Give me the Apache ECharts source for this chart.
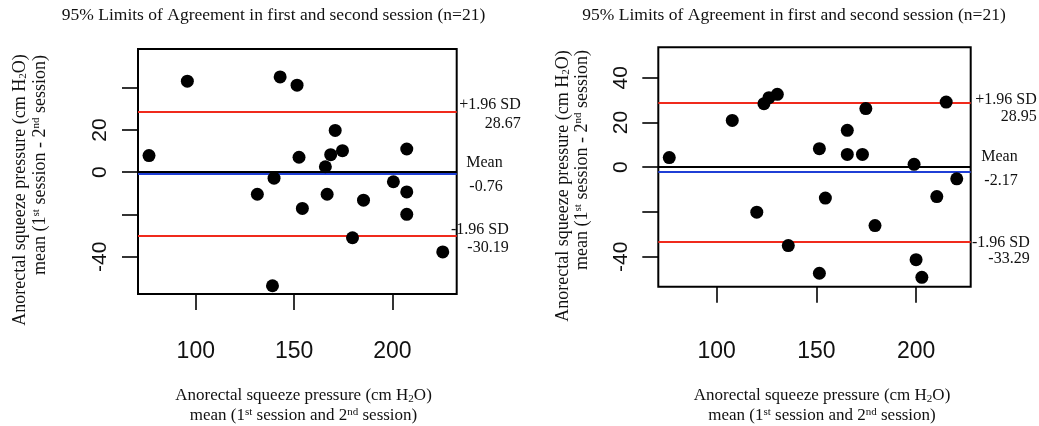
<!DOCTYPE html>
<html>
<head>
<meta charset="utf-8">
<script src="https://cdn.jsdelivr.net/npm/echarts@6/dist/echarts.min.js"></script>
<style>
html,body{margin:0;padding:0;background:#fff;}
#c{width:1039px;height:426px;}
</style>
</head>
<body>
<div id="c"></div>
<script>
// ---- data ----
const titleText = '95% Limits of Agreement in first and second session (n=21)';
const leftX = [76.2, 95.7, 142.9, 151.5, 170.9, 152.5, 168.6, 174.6, 165.9, 207.3, 139.8, 131.3, 166.8, 154.2, 185.3, 200.5, 207.3, 207.3, 179.7, 225.6, 139.0];
const leftY = [7.9, 43.1, 45.1, 41.2, 19.8, 7.1, 8.3, 10.2, 2.6, 11.0, -2.8, -10.4, -10.4, -17.1, -13.2, -4.5, -9.3, -19.9, -31.0, -37.7, -53.7];
const rightX = [76.2, 107.8, 123.7, 126.2, 130.4, 120.1, 135.9, 151.5, 154.5, 151.5, 165.5, 165.5, 173.1, 174.8, 179.4, 199.0, 200.0, 202.9, 210.4, 215.1, 220.4];
const rightY = [4.3, 20.9, 28.4, 31.1, 32.6, -20.1, -35.0, 8.3, -13.8, -47.4, 16.5, 5.7, 5.7, 26.2, -26.1, 1.3, -41.3, -49.2, -13.1, 29.1, -5.2];
const leftStats = [28.67, -0.76, -30.19];   // upper, mean, lower
const rightStats = [28.95, -2.17, -33.29];
const xTicks = [100, 150, 200];
const yTicks = [-40, -20, 0, 20, 40];
const leftYLabels = [-40, 0, 20];
const rightYLabels = [-40, 0, 20, 40];
const statNames = ['+1.96 SD', 'Mean', '-1.96 SD'];
const yTitle1 = 'Anorectal squeeze pressure (cm H{sub|2}O)';
const yTitle2 = 'mean (1{sup|st} session - 2{sup|nd} session)';
const xTitle1 = 'Anorectal squeeze pressure (cm H{sub|2}O)';
const xTitle2 = 'mean (1{sup|st} session and 2{sup|nd} session)';

// ---- layout ----
const grids = [
  {left: 138, top: 49, width: 318.7, height: 245, xr: [70.6, 232.7], yr: [-57.6, 58.3], xMargin: 46},
  {left: 658.3, top: 47.3, width: 312.4, height: 239.4, xr: [70.7, 227.4], yr: [-53.4, 53.6], xMargin: 53}
];
const serif = '"Liberation Serif","Times New Roman",serif';
const richStyles = {
  sup: {fontSize: 11, lineHeight: 11, verticalAlign: 'top', fontFamily: serif, color: '#000'},
  sub: {fontSize: 11, lineHeight: 11, verticalAlign: 'bottom', fontFamily: serif, color: '#000'}
};

const chart = echarts.init(document.getElementById('c'), null, {renderer: 'canvas'});

function pairs(xs, ys) { return xs.map((x, i) => [x, ys[i]]); }

const xAxes = grids.map((g, i) => ({
  type: 'value', gridIndex: i, min: g.xr[0], max: g.xr[1], position: 'bottom',
  axisLine: {show: false, onZero: false},
  splitLine: {show: false},
  axisTick: {show: true, length: 16, lineStyle: {color: '#000', width: 1.6}, customValues: xTicks},
  axisLabel: {show: true, customValues: xTicks, margin: g.xMargin, fontSize: 23,
    fontFamily: '"Liberation Sans",Arial,sans-serif', color: '#111'}
}));
const yAxes = grids.map((g, i) => ({
  type: 'value', gridIndex: i, min: g.yr[0], max: g.yr[1], position: 'left',
  axisLine: {show: false, onZero: false},
  splitLine: {show: false},
  axisTick: {show: true, length: 16, lineStyle: {color: '#000', width: 1.6}, customValues: yTicks},
  axisLabel: {show: true, customValues: i === 0 ? leftYLabels : rightYLabels, rotate: 90, margin: 27,
    fontSize: 21, fontFamily: '"Liberation Sans",Arial,sans-serif', color: '#111'}
}));

function lineSeries(i, stats) {
  return {
    type: 'scatter', xAxisIndex: i, yAxisIndex: i, data: [], z: 1, silent: true,
    markLine: {
      silent: true, symbol: 'none', animation: false, label: {show: false},
      data: [
        {yAxis: 0, lineStyle: {color: '#000', width: 2, type: 'solid'}},
        {yAxis: stats[1], lineStyle: {color: '#1f3fd6', width: 2, type: 'solid'}},
        {yAxis: stats[0], lineStyle: {color: '#f02a1c', width: 2, type: 'solid'}},
        {yAxis: stats[2], lineStyle: {color: '#f02a1c', width: 2, type: 'solid'}}
      ]
    }
  };
}
function pointSeries(i, xs, ys) {
  return {
    type: 'scatter', xAxisIndex: i, yAxisIndex: i, data: pairs(xs, ys), z: 5,
    symbol: 'circle', symbolSize: 13,
    itemStyle: {color: '#000', opacity: 1}
  };
}

const staticGraphics = [];
// titles and axis titles
const titleCenters = [273.5, 794];
const xTitleCenters = [303.5, 822];
const yTitleLine1 = [{x: 20, y: 190}, {x: 563, y: 186}];
const yTitleLine2 = [{x: 40, y: 165}, {x: 582, y: 160}];
for (let i = 0; i < 2; i++) {
  staticGraphics.push({type: 'text', x: titleCenters[i], y: 15, silent: true,
    style: {text: titleText, align: 'center', verticalAlign: 'middle', fontSize: 17.5, fontFamily: serif, fill: '#111'}});
  staticGraphics.push({type: 'text', x: xTitleCenters[i], y: 396, silent: true,
    style: {text: xTitle1, rich: richStyles, align: 'center', verticalAlign: 'middle', fontSize: 17, lineHeight: 18, fontFamily: serif, fill: '#111'}});
  staticGraphics.push({type: 'text', x: xTitleCenters[i], y: 416, silent: true,
    style: {text: xTitle2, rich: richStyles, align: 'center', verticalAlign: 'middle', fontSize: 17, lineHeight: 18, fontFamily: serif, fill: '#111'}});
  staticGraphics.push({type: 'text', x: yTitleLine1[i].x, y: yTitleLine1[i].y, rotation: Math.PI / 2, silent: true,
    style: {text: yTitle1, rich: richStyles, align: 'center', verticalAlign: 'middle', fontSize: 18, lineHeight: 18, fontFamily: serif, fill: '#111'}});
  staticGraphics.push({type: 'text', x: yTitleLine2[i].x, y: yTitleLine2[i].y, rotation: Math.PI / 2, silent: true,
    style: {text: yTitle2, rich: richStyles, align: 'center', verticalAlign: 'middle', fontSize: 18, lineHeight: 18, fontFamily: serif, fill: '#111'}});
}

chart.setOption({
  animation: false,
  backgroundColor: '#fff',
  grid: grids.map(g => ({left: g.left, top: g.top, width: g.width, height: g.height, show: true,
    borderColor: '#000', borderWidth: 2, backgroundColor: 'transparent', containLabel: false})),
  xAxis: xAxes,
  yAxis: yAxes,
  series: [lineSeries(0, leftStats), pointSeries(0, leftX, leftY), lineSeries(1, rightStats), pointSeries(1, rightX, rightY)],
  graphic: staticGraphics
});

// annotations to the right of each plot, tied to the line values
const noteLayout = [
  [{dx: 64, dy: [-7, 12]}, {dx: 46, dy: [-11, 13]}, {dx: 52, dy: [-6, 12]}],
  [{dx: 66, dy: [-3, 14]}, {dx: 47, dy: [-15, 9]}, {dx: 59, dy: [1, 17]}]
];
const allStats = [leftStats, rightStats];
const noteGraphics = [];
for (let i = 0; i < 2; i++) {
  for (let k = 0; k < 3; k++) {
    const v = allStats[i][k];
    const p = chart.convertToPixel({gridIndex: i}, [grids[i].xr[1], v]);
    const L = noteLayout[i][k];
    [statNames[k], v.toFixed(2)].forEach((t, j) => {
      noteGraphics.push({type: 'text', x: p[0] + L.dx, y: p[1] + L.dy[j], silent: true, z: 10,
        style: {text: t, align: 'right', verticalAlign: 'middle', fontSize: 16, fontFamily: serif, fill: '#111'}});
    });
  }
}
chart.setOption({graphic: staticGraphics.concat(noteGraphics)});
</script>
</body>
</html>
